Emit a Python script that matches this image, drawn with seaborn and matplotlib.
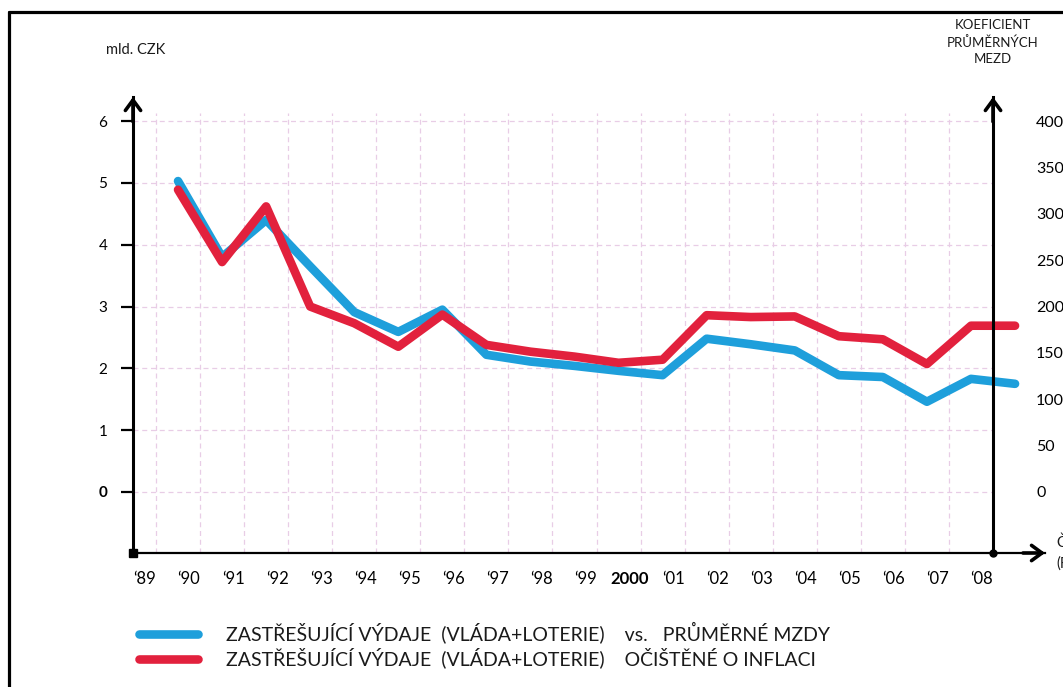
import matplotlib
matplotlib.use("Agg")
import matplotlib.pyplot as plt
from matplotlib.lines import Line2D
from matplotlib.transforms import ScaledTranslation
import numpy as np
import pandas as pd
import seaborn as sns

# ---- data -------------------------------------------------------------
years = list(range(1989, 2009))
year_labels = ["‘89", "‘90", "‘91", "‘92", "‘93", "‘94", "‘95", "‘96", "‘97",
               "‘98", "‘99", "2000", "‘01", "‘02", "‘03", "‘04", "‘05", "‘06",
               "‘07", "‘08"]
spend_vs_wages = [5.03, 3.80, 4.40, 3.65, 2.91, 2.59, 2.95, 2.22, 2.11, 2.04,
                  1.96, 1.89, 2.48, 2.39, 2.29, 1.89, 1.86, 1.46, 1.83, 1.75]
spend_real = [4.89, 3.72, 4.62, 3.00, 2.73, 2.35, 2.87, 2.38, 2.27, 2.19,
              2.09, 2.14, 2.86, 2.83, 2.84, 2.52, 2.47, 2.07, 2.69, 2.69]
series_names = [
    "ZASTŘEŠUJÍCÍ VÝDAJE  (VLÁDA+LOTERIE)    vs.   PRŮMĚRNÉ MZDY",
    "ZASTŘEŠUJÍCÍ VÝDAJE  (VLÁDA+LOTERIE)    OČIŠTĚNÉ O INFLACI",
]
left_ticks = [0, 1, 2, 3, 4, 5, 6]
right_ticks = [0, 50, 100, 150, 200, 250, 300, 350, 400]
colors = ["#1e9fdb", "#e2213d"]

# ---- style ------------------------------------------------------------
sns.set_style("white")
plt.rcParams["font.family"] = ["Lato", "DejaVu Sans"]
plt.rcParams["text.color"] = "#1a1a1a"

W, H = 1063, 687
fig = plt.figure(figsize=(W / 100, H / 100), dpi=100)
fig.patch.set_facecolor("white")


def px_rect(l, t, r, b):
    return [l / W, 1 - b / H, (r - l) / W, (b - t) / H]


ax = fig.add_axes(px_rect(133, 97, 1045, 553))

df = pd.DataFrame({
    "year": years * 2,
    "value": spend_vs_wages + spend_real,
    "series": [series_names[0]] * len(years) + [series_names[1]] * len(years),
})
df["x"] = df["year"] + 0.5  # each yearly value sits in the middle of its year

sns.lineplot(data=df, x="x", y="value", hue="series", hue_order=series_names,
             palette=colors, linewidth=6.2, ax=ax, legend=False, sort=False,
             zorder=5)
series_lines = ax.get_lines()[:2]
for ln in series_lines:
    ln.set_solid_capstyle("round")
    ln.set_solid_joinstyle("round")

xmin, xmax = 1988.478, 2009.18
ymin, ymax = -0.987, 6.39
x_right_axis = years[-1]
ax.set_xlim(xmin, xmax)
ax.set_ylim(ymin, ymax)
ax.set_xlabel("")
ax.set_ylabel("")

# dashed guide grid
grid_kw = dict(colors="#e8cde6", linewidths=0.9, linestyles=(0, (4, 3)), zorder=1)
ax.hlines(left_ticks, xmin, x_right_axis, **grid_kw)
ax.vlines(years, ymin, 6.13, **grid_kw)

# axes lines
for side in ["top", "right"]:
    ax.spines[side].set_visible(False)
ax.spines["left"].set_linewidth(2.2)
ax.spines["bottom"].set_linewidth(1.6)
ax.spines["left"].set_color("black")
ax.spines["bottom"].set_color("black")

ax.set_yticks(left_ticks)
ax.set_yticklabels([str(v) for v in left_ticks])
ax.tick_params(axis="y", direction="out", length=8.6, width=1.6, pad=10,
               labelsize=11, colors="black")
for lbl in ax.get_yticklabels():
    if lbl.get_text() == "0":
        lbl.set_fontweight("bold")

ax.set_xticks(years)
ax.set_xticklabels(year_labels)
ax.tick_params(axis="x", direction="out", length=4, width=1.8, pad=9,
               labelsize=12, colors="black")
shift = ScaledTranslation(-0.11, 0, fig.dpi_scale_trans)
for lbl in ax.get_xticklabels():
    lbl.set_transform(lbl.get_transform() + shift)
    if lbl.get_text() == "2000":
        lbl.set_fontweight("bold")

# right axis (wage coefficient)
ax2 = ax.twinx()
ratio = right_ticks[-1] / left_ticks[-1]
ax2.set_ylim(ymin * ratio, ymax * ratio)
for side in ["top", "left", "bottom"]:
    ax2.spines[side].set_visible(False)
ax2.spines["right"].set_position(("data", x_right_axis))
ax2.spines["right"].set_linewidth(2.2)
ax2.spines["right"].set_color("black")
ax2.set_yticks(right_ticks)
ax2.set_yticklabels([str(v) for v in right_ticks])
ax2.tick_params(axis="y", length=0, pad=31, labelsize=11.5, colors="black")
ax2.grid(False)

# arrow heads
arrow_kw = dict(arrowstyle="->,head_length=0.75,head_width=0.55", lw=2.6,
                color="black", shrinkA=0, shrinkB=0)
ax.annotate("", xy=(xmin, ymax), xytext=(xmin, ymax - 0.4),
            arrowprops=arrow_kw, annotation_clip=False)
ax.annotate("", xy=(x_right_axis, ymax), xytext=(x_right_axis, ymax - 0.4),
            arrowprops=arrow_kw, annotation_clip=False)
ax.annotate("", xy=(xmax, ymin), xytext=(xmax - 0.5, ymin),
            arrowprops=arrow_kw, annotation_clip=False)
ax.plot([xmin], [ymin], marker="s", ms=5.5, color="black", clip_on=False, zorder=6)
ax.plot([x_right_axis], [ymin], marker="o", ms=5, color="black", clip_on=False, zorder=6)

# axis titles
fig.text(136 / W, 1 - 50 / H, "mld. CZK", ha="center", va="center", fontsize=10.5)
fig.text(993 / W, 1 - 42 / H, "KOEFICIENT\nPRŮMĚRNÝCH\nMEZD", ha="center",
         va="center", fontsize=9.5, linespacing=1.45)
fig.text(1056 / W, 1 - 553 / H, "ČAS\n(ROKY)", ha="left", va="center",
         fontsize=10.5, linespacing=1.6)

# legend
fig.legend(series_lines, series_names, loc="center left",
           bbox_to_anchor=(139 / W, 1 - 645 / H), frameon=False, borderpad=0,
           borderaxespad=0, handlelength=3.05, handletextpad=1.45,
           labelspacing=0.2, fontsize=14)

# page frame
fig.add_artist(Line2D([9 / W, 9 / W], [0, 1 - 12 / H], lw=2.3, color="black"))
fig.add_artist(Line2D([9 / W, 1], [1 - 12 / H, 1 - 12 / H], lw=2.3, color="black"))

fig.savefig("out.png", dpi=100, facecolor="white")
